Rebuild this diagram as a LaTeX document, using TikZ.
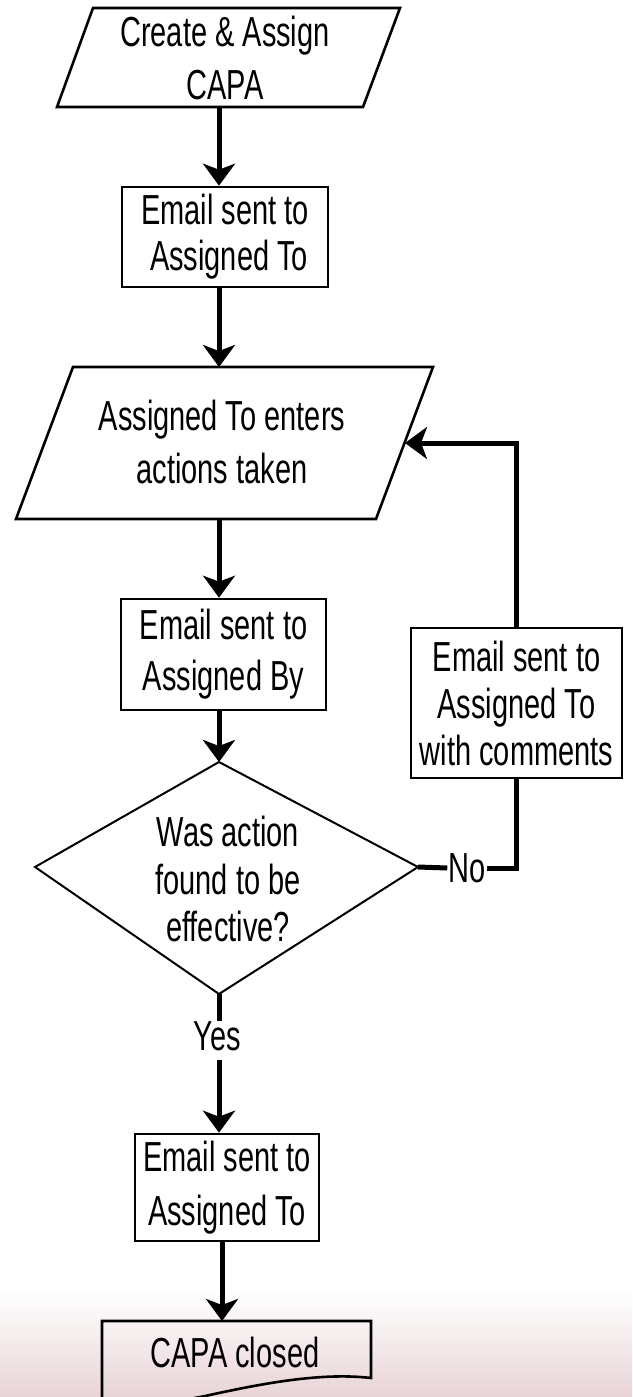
\documentclass[tikz,border=0pt]{standalone}
\usepackage{fontspec}
\setmainfont{Liberation Sans}[FakeStretch=0.69]
\usetikzlibrary{arrows.meta,calc}
\definecolor{pinkbg}{RGB}{232,212,215}
\begin{document}
\begin{tikzpicture}[x=1pt,y=-1pt,
  shp/.style={draw=black, line width=2.6pt, line join=miter},
  thinshp/.style={draw=black, line width=2pt, line join=miter},
  boxnode/.style={shp, fill=white, inner sep=0pt, align=center},
  conn/.style={line width=5pt, -{Stealth[length=22pt,width=32pt,inset=6pt]}},
  plainline/.style={line width=5pt},
  txt/.style={align=center, inner sep=0pt},
  big/.style={font=\fontsize{42}{53}\selectfont},
]
\useasboundingbox (0,0) rectangle (632,1397);
\clip (0,0) rectangle (632,1397);
\fill[white] (0,0) rectangle (632,1397);
\shade[top color=white, bottom color=pinkbg] (0,1290) rectangle (632,1397);

% parallelogram 1
\coordinate (p1tl) at (93,8);
\coordinate (p1tr) at (400,8);
\coordinate (p1br) at (363,107);
\coordinate (p1bl) at (57,107);
\draw[shp] (p1tl) -- (p1tr) -- (p1br) -- (p1bl) -- cycle;
\node[txt, big] (p1) at (225,58) {Create \& Assign\\CAPA};
\coordinate (p1s) at (219,107);

% box 1
\node[boxnode, font=\fontsize{42}{46}\selectfont, minimum width=206pt, minimum height=100pt] (b1) at (225,237) {Email sent to\\\ Assigned To};

% parallelogram 2
\coordinate (p2tl) at (73,367);
\coordinate (p2tr) at (433,367);
\coordinate (p2br) at (376,519);
\coordinate (p2bl) at (16,519);
\draw[shp] (p2tl) -- (p2tr) -- (p2br) -- (p2bl) -- cycle;
\node[txt, big] (p2) at (222,442) {Assigned To enters\\actions taken};
\coordinate (p2n) at (219,367);
\coordinate (p2s) at (219,519);
\coordinate (p2r) at (405,443);

% box 2
\node[boxnode, font=\fontsize{42}{51}\selectfont, minimum width=205pt, minimum height=111pt] (b2) at (223.5,654.5) {Email sent to\\Assigned By};

% diamond
\coordinate (dT) at (219,762);
\coordinate (dL) at (35,867);
\coordinate (dR) at (418,867);
\coordinate (dB) at (219,994);
\draw[thinshp] (dT) -- (dR) -- (dB) -- (dL) -- cycle;
\node[txt, font=\fontsize{42}{47.5}\selectfont] (dq) at (228,879) {Was action\\found to be\\effective?};

% right box
\node[boxnode, font=\fontsize{42}{47}\selectfont, minimum width=211pt, minimum height=150pt] (rc) at (516.5,703) {Email sent to\\Assigned To\\with comments};

% box 3
\node[boxnode, font=\fontsize{42}{54}\selectfont, minimum width=184pt, minimum height=107pt] (b3) at (227,1187.5) {Email sent to\\Assigned To};

% document shape
\draw[shp] (102,1321) -- (371,1321) -- (371,1378)
  .. controls (320,1372) and (260,1384) .. (205,1396)
  .. controls (170,1403) and (130,1408) .. (102,1410) -- cycle;
\node[txt, big] (cl) at (235,1352) {CAPA closed};
\coordinate (clN) at (222,1321);

% labels
\node[txt, big] (yes) at (217,1036) {Yes};
\node[txt, big] (no) at (467,868) {No};

% connectors
\draw[conn] (p1s) -- (p1s |- b1.north);
\draw[conn] (b1.south -| p1s) -- (p2n);
\draw[conn] (p2s) -- (p2s |- b2.north);
\draw[conn] (b2.south -| dT) -- (dT);
\draw[plainline] (dB) -- (dB |- yes.north);
\draw[conn] ([yshift=-9pt]yes.south -| dB) -- (dB |- b3.north);
\draw[conn] (b3.south -| clN) -- (clN);
\draw[plainline] (dR) -- ([xshift=-1pt]no.west);
\draw[plainline, line join=miter] ([xshift=1pt]no.east) -- (no.east -| rc.south) -- (rc.south);
\draw[conn, line join=miter] (rc.north) |- (p2r);
\end{tikzpicture}
\end{document}
